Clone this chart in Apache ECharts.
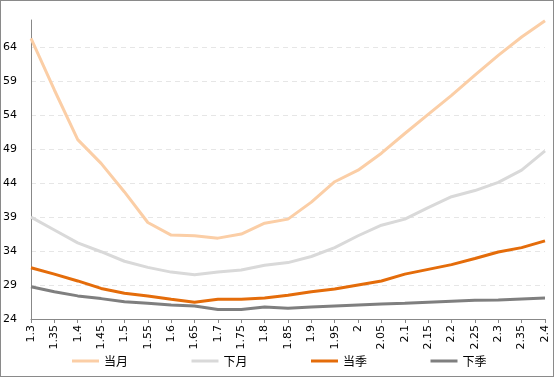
<!DOCTYPE html>
<html><head><meta charset="utf-8">
<script src="https://cdn.jsdelivr.net/npm/echarts@6/dist/echarts.min.js"></script>
<style>
html,body{margin:0;padding:0;background:#fff;}
#c{position:absolute;left:0;top:0;width:554px;height:377px;}
#b{position:absolute;left:0;top:0;width:554px;height:377px;box-sizing:border-box;border:1px solid #8a8a8a;pointer-events:none;}
</style></head>
<body><div id="c"></div><div id="b"></div>
<script>
const categories = ['1.3','1.35','1.4','1.45','1.5','1.55','1.6','1.65','1.7','1.75','1.8','1.85','1.9','1.95','2','2.05','2.1','2.15','2.2','2.25','2.3','2.35','2.4'];
const dangYue = [65.3,57.7,50.4,46.9,42.7,38.2,36.35,36.25,35.9,36.5,38.1,38.7,41.2,44.2,45.9,48.4,51.3,54.1,56.9,59.9,62.8,65.5,67.9];
const xiaYue  = [39.0,37.1,35.2,33.9,32.5,31.6,30.9,30.5,30.9,31.2,31.9,32.3,33.2,34.5,36.25,37.8,38.7,40.4,42.0,42.9,44.1,45.9,48.75];
const dangJi  = [31.55,30.6,29.6,28.5,27.8,27.4,26.9,26.45,26.9,26.9,27.1,27.5,28.0,28.4,29.0,29.6,30.6,31.3,32.0,32.9,33.85,34.5,35.5];
const xiaJi   = [28.75,28.0,27.4,27.0,26.55,26.3,26.05,25.9,25.4,25.4,25.75,25.6,25.75,25.9,26.05,26.2,26.3,26.45,26.6,26.75,26.8,26.95,27.1];
const yTicks = [24,29,34,39,44,49,54,59,64];
const names = ['当月','下月','当季','下季'];
const colors = ['#FBCEA6','#D9D9D9','#E46C0A','#7F7F7F'];
const allData = [dangYue, xiaYue, dangJi, xiaJi];

const chart = echarts.init(document.getElementById('c'));
chart.setOption({
  animation:false,
  grid:{left:31,right:9,top:20,bottom:58,containLabel:false},
  legend:{
    top:355,left:72,padding:0,itemGap:63.5,itemWidth:27,itemHeight:3,icon:'rect',
    textStyle:{fontFamily:'Noto Sans CJK SC',fontSize:12,color:'#000'},
    data:names
  },
  xAxis:{
    type:'category',data:categories,boundaryGap:false,
    axisLine:{lineStyle:{color:'#888',width:1}},
    axisTick:{show:true,alignWithLabel:true,length:4,lineStyle:{color:'#888'}},
    axisLabel:{rotate:90,interval:0,margin:6,fontFamily:'DejaVu Sans',fontSize:11,color:'#000'},
    splitLine:{show:false}
  },
  yAxis:{
    type:'value',min:24,max:68,
    axisLine:{show:true,lineStyle:{color:'#888',width:1}},
    axisTick:{show:false,customValues:yTicks},
    axisLabel:{customValues:yTicks,margin:14,fontFamily:'DejaVu Sans',fontSize:11,color:'#000'},
    splitLine:{show:true,lineStyle:{color:'#e6e6e6',type:[5,4],width:1}}
  },
  series: names.map((n,i)=>({
    name:n,type:'line',data:allData[i],symbol:'none',
    lineStyle:{color:colors[i],width:3},itemStyle:{color:colors[i]},
    z: i===0?2:3
  }))
});
</script></body></html>
